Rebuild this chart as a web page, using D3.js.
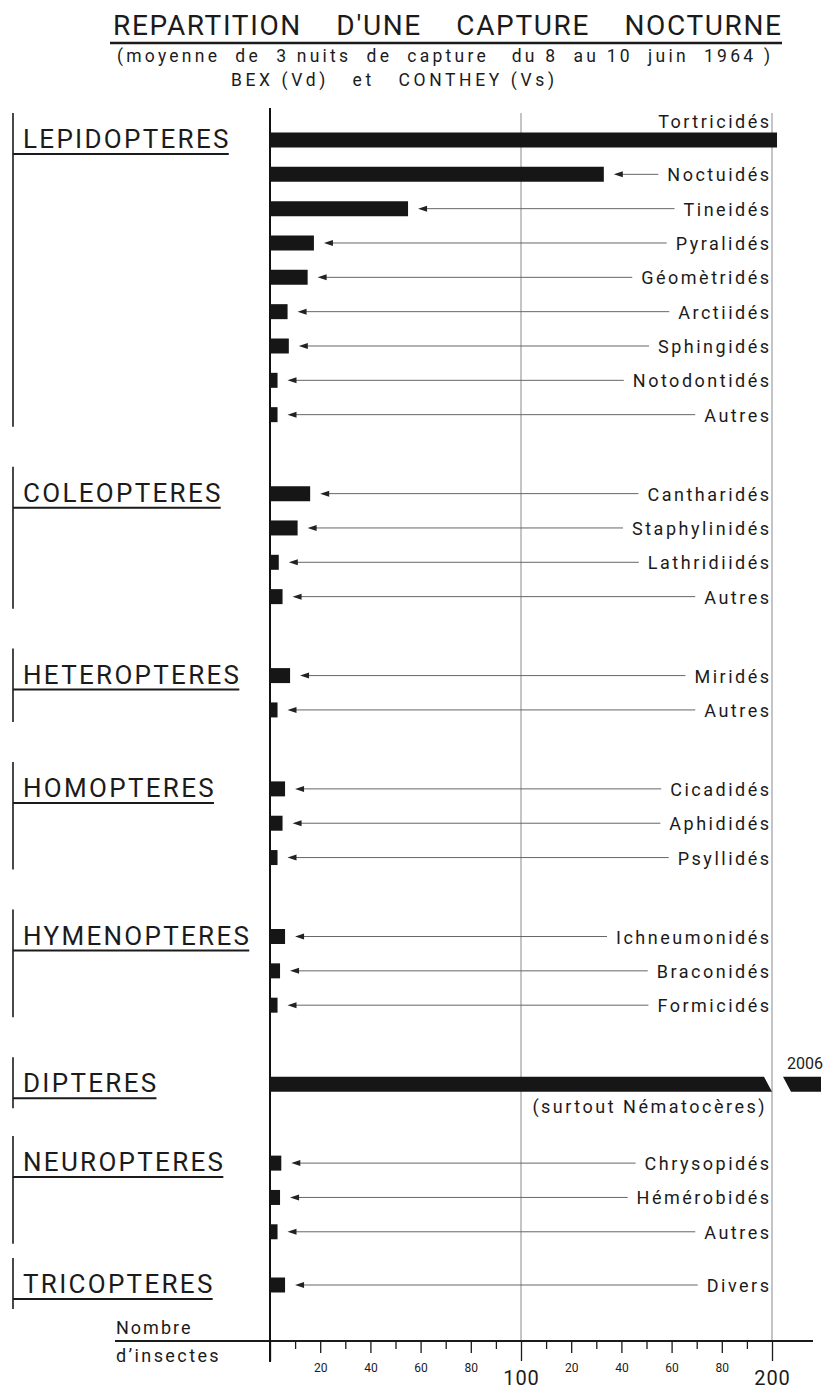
<!DOCTYPE html>
<meta charset="utf-8">
<style>
  body { margin: 0; background: #fff; }
  text { font-family: Roboto, "DejaVu Sans", sans-serif; fill: #1b1b1b; }
</style>
<script src="https://d3js.org/d3.v7.min.js"></script>
<div id="chart"></div>
<script>
  // insect orders, and how many families of each are listed
  var orders = ["LEPIDOPTERES", "COLEOPTERES", "HETEROPTERES", "HOMOPTERES", "HYMENOPTERES", "DIPTERES", "NEUROPTERES", "TRICOPTERES"]
  var orderSizes = [9, 4, 2, 3, 3, 1, 3, 1]

  // families, in drawing order
  var families = ["Tortricidés", "Noctuidés", "Tineidés", "Pyralidés", "Géomètridés", "Arctiidés", "Sphingidés", "Notodontidés", "Autres",
                  "Cantharidés", "Staphylinidés", "Lathridiidés", "Autres",
                  "Miridés", "Autres",
                  "Cicadidés", "Aphididés", "Psyllidés",
                  "Ichneumonidés", "Braconidés", "Formicidés",
                  "(surtout Nématocères)",
                  "Chrysopidés", "Hémérobidés", "Autres",
                  "Divers"]

  // mean number of insects per night
  var counts = [202, 133, 55, 17.5, 15, 7, 7.5, 3, 3,
                16, 11, 3.5, 5,
                8, 3,
                6, 5, 3,
                6, 4, 3,
                2006,
                4.5, 4, 3,
                6]

  // tick marks of the counting axis
  var tickLong = [20, 40, 60, 80, 120, 140, 160, 180]
  var tickShort = [10, 30, 50, 70, 90, 110, 130, 150, 170, 190]
  var tickMajor = [0, 100, 200]

  var width = 835, height = 1393

  var svg = d3.select("#chart").append("svg")
    .attr("width", width)
    .attr("height", height)

  // horizontal scale : 0 .. 200 insects
  var x = d3.scaleLinear().domain([0, 200]).range([270, 772])

  // each row gets a slot; orders are separated by a wider gap
  var rows = [], pos = 0, r = 0
  orderSizes.forEach(function(n, g) {
    for (var i = 0; i < n; i++) {
      if (r > 0) pos += (i > 0 ? 1 : (g == orders.length - 1 ? 1.55 : 2.3))
      rows.push({ name: families[r], value: counts[r], order: g, slot: pos })
      r++
    }
  })
  var y = d3.scaleLinear().domain([0, pos]).range([140, 1285])

  // ---- title ----
  svg.append("text")
    .attr("x", 113).attr("y", 35)
    .attr("textLength", 668).attr("lengthAdjust", "spacing")
    .style("font-size", "28px").style("white-space", "pre")
    .text("REPARTITION    D'UNE    CAPTURE    NOCTURNE")
  svg.append("line")
    .attr("x1", 110).attr("x2", 782).attr("y1", 43).attr("y2", 43)
    .attr("stroke", "#1b1b1b").attr("stroke-width", 2.5)
  svg.append("text")
    .attr("x", 117).attr("y", 62)
    .attr("textLength", 653).attr("lengthAdjust", "spacing")
    .style("font-size", "17.5px").style("white-space", "pre")
    .text("(moyenne  de  3 nuits  de  capture   du 8  au 10  juin  1964 )")
  svg.append("text")
    .attr("x", 231).attr("y", 86)
    .attr("textLength", 323).attr("lengthAdjust", "spacing")
    .style("font-size", "17.5px").style("white-space", "pre")
    .text("BEX (Vd)   et   CONTHEY (Vs)")

  // ---- grid lines at 100 and 200 ----
  svg.selectAll("grid")
    .data([100, 200])
    .enter().append("line")
      .attr("x1", function(d) { return x(d) }).attr("x2", function(d) { return x(d) })
      .attr("y1", 113).attr("y2", 1341)
      .attr("stroke", "#8a8a8a").attr("stroke-width", 1)

  // ---- counting axis at the bottom ----
  var axisY = 1341
  svg.append("line")
    .attr("x1", 115).attr("x2", 813).attr("y1", axisY).attr("y2", axisY)
    .attr("stroke", "#1b1b1b").attr("stroke-width", 2)

  var gShort = svg.append("g").attr("transform", "translate(0," + axisY + ")")
    .call(d3.axisBottom(x).tickValues(tickShort).tickSize(8).tickFormat(""))
  var gLong = svg.append("g").attr("transform", "translate(0," + axisY + ")")
    .call(d3.axisBottom(x).tickValues(tickLong).tickSize(12).tickPadding(10)
      .tickFormat(function(d) { return d % 100 }))
  var gMajor = svg.append("g").attr("transform", "translate(0," + axisY + ")")
    .call(d3.axisBottom(x).tickValues(tickMajor).tickSize(20).tickPadding(10)
      .tickFormat(function(d) { return d ? d : "" }))
  ;[gShort, gLong, gMajor].forEach(function(g) {
    g.select(".domain").remove()
    g.selectAll("line").attr("stroke", "#1b1b1b").attr("stroke-width", 1.3)
    g.selectAll("text").attr("fill", "#1b1b1b").style("font-family", "Roboto, sans-serif")
  })
  gLong.selectAll("text").style("font-size", "12px")
  gMajor.selectAll("text").style("font-size", "20px").style("letter-spacing", "1px")

  svg.append("text").attr("x", 116).attr("y", 1334)
    .style("font-size", "18px").style("letter-spacing", "2px").text("Nombre")
  svg.append("text").attr("x", 116).attr("y", 1362)
    .style("font-size", "18px").style("letter-spacing", "2.4px").text("d\u2019insectes")

  // ---- the zero line ----
  svg.append("line")
    .attr("x1", x(0)).attr("x2", x(0)).attr("y1", 108).attr("y2", 1362)
    .attr("stroke", "#111").attr("stroke-width", 2)

  // ---- order brackets and titles ----
  orders.forEach(function(name, g) {
    var own = rows.filter(function(d) { return d.order == g })
    var top = y(own[0].slot), bottom = y(own[own.length - 1].slot)
    var base = top + 8
    var t = svg.append("text")
      .attr("x", 23).attr("y", base)
      .style("font-size", "26px").style("letter-spacing", "2.3px")
      .text(name)
    var w = t.node().getComputedTextLength()
    svg.append("line")
      .attr("x1", 13).attr("x2", 21 + w).attr("y1", base + 6).attr("y2", base + 6)
      .attr("stroke", "#1b1b1b").attr("stroke-width", 2)
    svg.append("line")
      .attr("x1", 13).attr("x2", 13)
      .attr("y1", top - 27).attr("y2", Math.max(bottom + 12, base + 16))
      .attr("stroke", "#1b1b1b").attr("stroke-width", 1.6)
  })

  // ---- bars ----
  var barH = 15
  var max = x.domain()[1]
  svg.selectAll("bars")
    .data(rows)
    .enter().append("path")
      .attr("fill", "#161616")
      .attr("d", function(d) {
        var y0 = y(d.slot) - barH / 2, y1 = y0 + barH
        if (d.value <= max + 5) {
          return "M" + x(0) + "," + y0 + "H" + x(d.value) + "V" + y1 + "H" + x(0) + "Z"
        }
        // broken bar: slanted cut at 200 and a short stub beyond
        return "M" + x(0) + "," + y0 + "H" + (x(max) - 8) + "L" + x(max) + "," + y1 + "H" + x(0) + "Z" +
               "M" + (x(max) + 11) + "," + y0 + "H" + (x(max) + 49) + "V" + y1 + "H" + (x(max) + 19) + "Z"
      })

  // value of the broken bar
  rows.filter(function(d) { return d.value > max + 5 }).forEach(function(d) {
    svg.append("text")
      .attr("x", x(max) + 51).attr("y", y(d.slot) - 15)
      .attr("text-anchor", "end")
      .style("font-size", "16px")
      .text(d.value)
  })

  // ---- family labels with leader arrows ----
  var labelRight = x(max) - 3
  rows.forEach(function(d) {
    var cy = y(d.slot)
    var t = svg.append("text")
      .attr("x", labelRight + 2.5)
      .attr("text-anchor", "end")
      .style("font-size", "18px").style("letter-spacing", "2.5px")
      .text(d.name)
    var w = t.node().getComputedTextLength()
    var start = labelRight - w + 2.5
    var tip = x(Math.min(d.value, max)) + 10
    if (tip + 25 > start) {
      // no room for an arrow: label sits above, or below a broken bar
      if (d.value > max + 5) t.attr("x", labelRight - 2).attr("y", cy + 29)
      else t.attr("y", cy - 12)
      return
    }
    t.attr("y", cy + 7)
    svg.append("line")
      .attr("x1", tip + 6).attr("x2", start - 9).attr("y1", cy).attr("y2", cy)
      .attr("stroke", "#666").attr("stroke-width", 1)
    svg.append("path")
      .attr("d", "M" + tip + "," + cy + "l9,-3v6z")
      .attr("fill", "#222")
  })
</script>
